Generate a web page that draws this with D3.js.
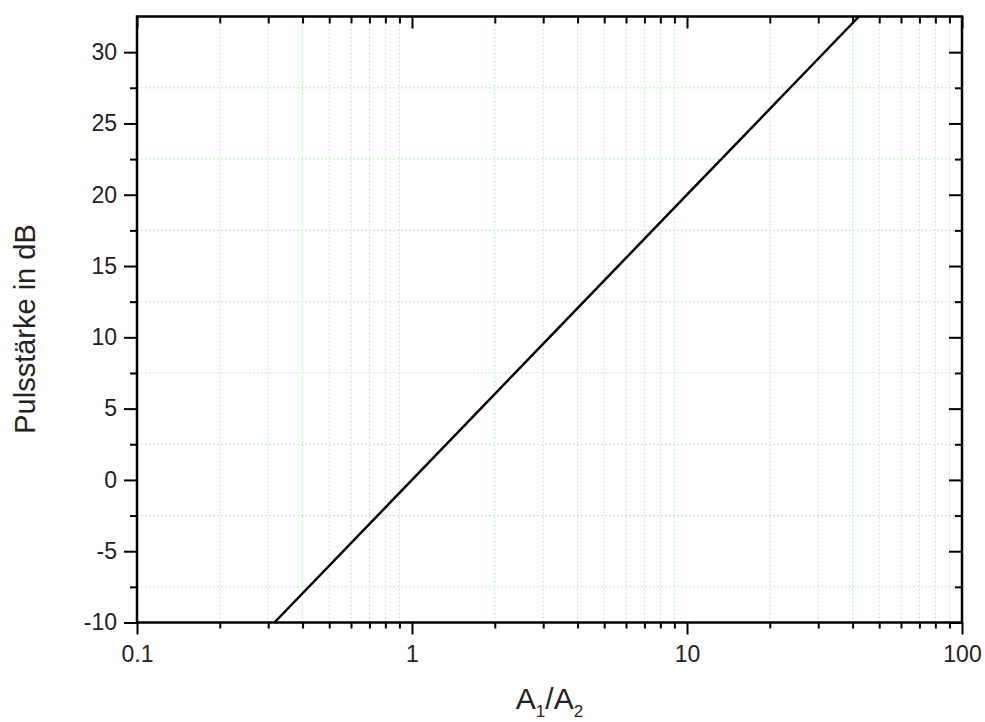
<!DOCTYPE html>
<html>
<head>
<meta charset="utf-8">
<script src="https://cdn.jsdelivr.net/npm/d3@7"></script>
<style>
body{margin:0;background:#fff;}
svg{font-family:"Liberation Sans",Arial,sans-serif;}
</style>
</head>
<body>
<script>
var width = 985;
var height = 722;

// values
var ratio = [0.316, 1, 3.16, 10, 42.2];
var dB = [-10, 0, 10, 20, 32.5];
var xMajor = [0.1, 1, 10, 100];
var xMinor = [0.2,0.3,0.4,0.5,0.6,0.7,0.8,0.9,2,3,4,5,6,7,8,9,20,30,40,50,60,70,80,90];
var yMajor = [-10, -5, 0, 5, 10, 15, 20, 25, 30];
var yMinor = [-7.5, -2.5, 2.5, 7.5, 12.5, 17.5, 22.5, 27.5];

var m = {left:137, right:985-962, top:16.5, bottom:722-622.5};
var w = width-m.left-m.right, h = height-m.top-m.bottom;

var svg = d3.select('body').append('svg')
	.attr('width',width)
	.attr('height',height);
var g = svg.append('g').attr('transform','translate('+m.left+','+m.top+')');

var x = d3.scaleLog().domain([0.1,100]).range([0,w]);
var y = d3.scaleLinear().domain([-10,32.5]).range([h,0]);

// dotted green grid at the minor ticks
g.selectAll('.vg').data(xMinor).enter().append('line')
	.attr('x1',d=>x(d)).attr('x2',d=>x(d)).attr('y1',0).attr('y2',h)
	.attr('stroke','#bdebbd').attr('stroke-width',1).attr('stroke-dasharray','2,2');
g.selectAll('.hg').data(yMinor).enter().append('line')
	.attr('y1',d=>y(d)).attr('y2',d=>y(d)).attr('x1',0).attr('x2',w)
	.attr('stroke','#bdebbd').attr('stroke-width',1).attr('stroke-dasharray','2,2');

function style(sel){
	sel.attr('font-family',null).attr('font-size',null);
	sel.select('.domain').remove();
	sel.selectAll('line').attr('stroke','#000').attr('stroke-width',2);
	sel.selectAll('text').attr('fill','#222').style('font-size','23px');
}
var fmt = d=>String(d);

// bottom
g.append('g').attr('transform','translate(0,'+h+')')
	.call(d3.axisBottom(x).tickValues(xMajor).tickFormat(fmt).tickSize(12).tickPadding(11)).call(style);
g.append('g').attr('transform','translate(0,'+h+')')
	.call(d3.axisBottom(x).tickValues(xMinor).tickFormat('').tickSize(6)).call(style);
// top (inward)
g.append('g')
	.call(d3.axisBottom(x).tickValues(xMajor).tickFormat('').tickSize(12)).call(style);
g.append('g')
	.call(d3.axisBottom(x).tickValues(xMinor).tickFormat('').tickSize(7)).call(style);
// left
g.append('g')
	.call(d3.axisLeft(y).tickValues(yMajor).tickFormat(fmt).tickSize(13).tickPadding(7)).call(style);
g.append('g')
	.call(d3.axisLeft(y).tickValues(yMinor).tickFormat('').tickSize(7)).call(style);
// right (inward)
g.append('g').attr('transform','translate('+w+',0)')
	.call(d3.axisLeft(y).tickValues(yMajor).tickFormat('').tickSize(13)).call(style);
g.append('g').attr('transform','translate('+w+',0)')
	.call(d3.axisLeft(y).tickValues(yMinor).tickFormat('').tickSize(7)).call(style);

// frame
g.append('rect').attr('width',w).attr('height',h)
	.attr('fill','none').attr('stroke','#000').attr('stroke-width',2.5);

// curve
var line = d3.line().x((d,i)=>x(ratio[i])).y(d=>y(d));
g.append('path').datum(dB)
	.attr('d',line)
	.attr('fill','none').attr('stroke','#000').attr('stroke-width',2.5);

// axis titles
var xt = svg.append('text')
	.attr('x',m.left+w/2).attr('y',709)
	.attr('text-anchor','middle').attr('fill','#222').style('font-size','30px');
xt.append('tspan').text('A');
xt.append('tspan').attr('dy',8).style('font-size','17px').text('1');
xt.append('tspan').attr('dy',-8).text('/A');
xt.append('tspan').attr('dy',8).style('font-size','17px').text('2');

svg.append('text')
	.attr('transform','translate(35,329) rotate(-90)')
	.attr('text-anchor','middle').attr('fill','#222').style('font-size','29px')
	.text('Pulsstärke in dB');
</script>
</body>
</html>
